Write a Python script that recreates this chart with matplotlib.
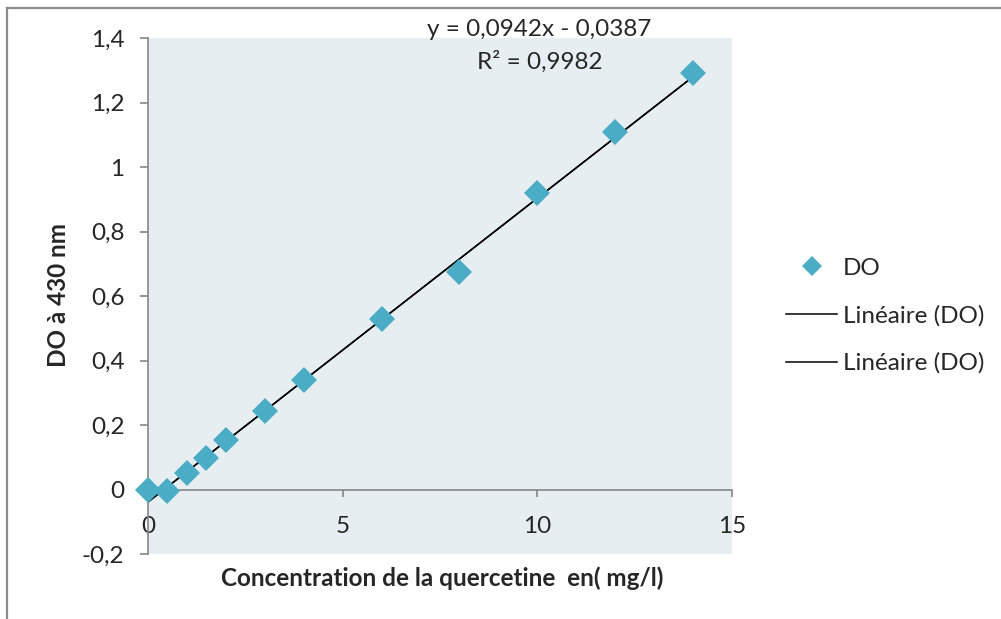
import matplotlib
matplotlib.use("Agg")
import matplotlib.pyplot as plt
from matplotlib.lines import Line2D
from matplotlib.ticker import FuncFormatter

plt.rcParams['font.family'] = ['Lato', 'DejaVu Sans']

# Quercetin calibration data
concentration = [0, 0.5, 1, 1.5, 2, 3, 4, 6, 8, 10, 12, 14]
absorbance = [0.0, -0.005, 0.05, 0.099, 0.152, 0.242, 0.338, 0.530, 0.673, 0.918, 1.107, 1.293]

# Linear trend line parameters
slope = 0.0942
intercept = -0.0387
r_squared = 0.9982

x_ticks = [0, 5, 10, 15]
y_ticks = [-0.2, 0, 0.2, 0.4, 0.6, 0.8, 1.0, 1.2, 1.4]

W, H = 1001, 619
fig = plt.figure(figsize=(W / 100, H / 100), dpi=100)
fig.patch.set_facecolor('white')

text_col = '#262626'
axis_col = '#868686'
marker_col = '#4BACC6'
fs = 17.5

ax = fig.add_axes([148 / W, 1 - 554 / H, 584 / W, 516 / H])
ax.set_facecolor('#E7EEF2')
ax.set_xlim(0, 15)
ax.set_ylim(-0.2, 1.4)

ax.spines['top'].set_visible(False)
ax.spines['right'].set_visible(False)
ax.spines['bottom'].set_position(('data', 0))
for s in ('left', 'bottom'):
    ax.spines[s].set_color(axis_col)
    ax.spines[s].set_linewidth(1.2)

ax.set_xticks(x_ticks)
ax.set_yticks(y_ticks)
comma = FuncFormatter(lambda v, p: ('%g' % round(v, 2)).replace('.', ','))
ax.xaxis.set_major_formatter(comma)
ax.yaxis.set_major_formatter(comma)
ax.tick_params(axis='x', direction='out', length=5, width=1.2, color=axis_col,
               pad=14, labelsize=fs, labelcolor=text_col)
ax.tick_params(axis='y', direction='out', length=6, width=1.2, color=axis_col,
               pad=11, labelsize=fs, labelcolor=text_col)

# Trend line from the fitted equation (drawn for both trend entries)
x_fit = [concentration[0], concentration[-1]]
y_fit = [slope * v + intercept for v in x_fit]
ax.plot(x_fit, y_fit, color='black', lw=1.1, zorder=2)
ax.plot(x_fit, y_fit, color='black', lw=1.1, zorder=2)

ax.plot(concentration, absorbance, linestyle='none', marker='D', ms=13.5,
        color=marker_col, markeredgewidth=0, zorder=3, clip_on=False)

fig.text(442 / W, 1 - 578 / H, 'Concentration de la quercetine  en( mg/l)',
         ha='center', va='center', fontsize=fs, fontweight='bold', color=text_col)
fig.text(58 / W, 1 - 295 / H, 'DO à 430 nm', rotation=90,
         ha='center', va='center', fontsize=fs, fontweight='bold', color=text_col)

eq = 'y = %sx - %s' % (('%.4f' % slope).replace('.', ','),
                        ('%.4f' % abs(intercept)).replace('.', ','))
fig.text(539 / W, 1 - 30 / H, eq, ha='center', va='center',
         fontsize=fs, color=text_col)
fig.text(540 / W, 1 - 62 / H, 'R² = %s' % ('%.4f' % r_squared).replace('.', ','),
         ha='center', va='center', fontsize=fs, color=text_col)

handles = [
    Line2D([], [], linestyle='none', marker='D', ms=10, color=marker_col,
           markeredgewidth=0),
    Line2D([], [], color='black', lw=1.1),
    Line2D([], [], color='black', lw=1.1),
]
labels = ['DO', 'Linéaire (DO)', 'Linéaire (DO)']
leg = fig.legend(handles, labels, loc='center left',
                 bbox_to_anchor=(786 / W, 1 - 316 / H), frameon=False,
                 fontsize=fs, handlelength=2.1, handletextpad=0.25,
                 labelspacing=1.07, borderpad=0, borderaxespad=0)
for t in leg.get_texts():
    t.set_color(text_col)

# Chart frame
fig.add_artist(Line2D([7 / W, 7 / W], [0, 1 - 8 / H], color='#8C8C8C', lw=1.6,
                      transform=fig.transFigure))
fig.add_artist(Line2D([7 / W, 1], [1 - 8 / H, 1 - 8 / H], color='#8C8C8C', lw=1.6,
                      transform=fig.transFigure))

fig.savefig('out.png', dpi=100)
